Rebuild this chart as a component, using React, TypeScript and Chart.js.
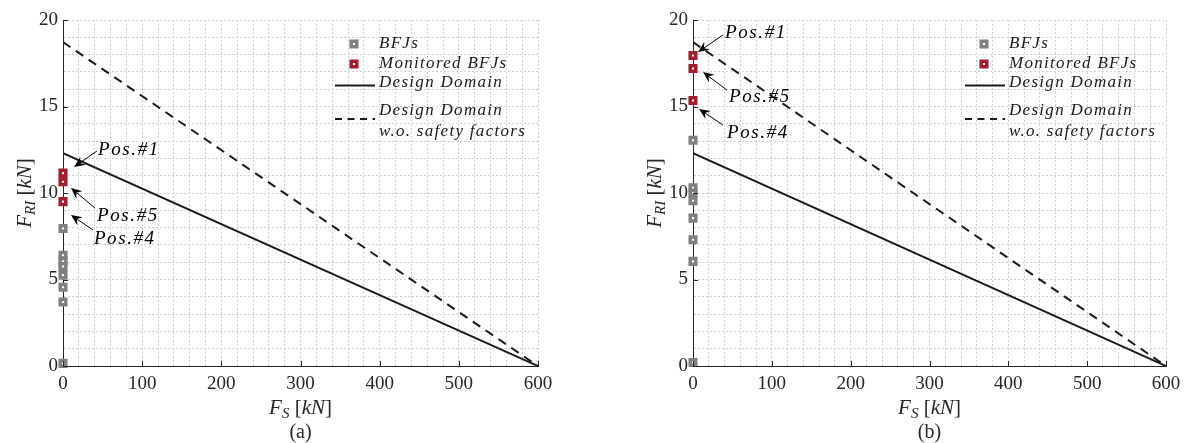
import React, { useEffect, useRef } from 'react';
import { Chart, registerables } from 'chart.js';

Chart.register(...registerables);

// ---- data ----
const FS_ENDPOINTS = [0, 600];
const DESIGN_DOMAIN = [12.3, 0];
const DESIGN_DOMAIN_NO_SF = [18.72, 0];

const BFJ_FS_A = [0, 0, 0, 0, 0, 0, 0, 0];
const BFJ_FRI_A = [7.95, 6.4, 6.05, 5.75, 5.25, 4.55, 3.7, 0.15];
const MON_FS_A = [0, 0, 0];
const MON_FRI_A = [11.15, 10.65, 9.5];

const BFJ_FS_B = [0, 0, 0, 0, 0, 0, 0, 0];
const BFJ_FRI_B = [13.05, 10.3, 10.0, 9.55, 8.55, 7.3, 6.05, 0.2];
const MON_FS_B = [0, 0, 0];
const MON_FRI_B = [17.95, 17.2, 15.35];

const POS_LABELS = ['Pos.#1', 'Pos.#5', 'Pos.#4'];
const X_TICK_LABELS = [0, 100, 200, 300, 400, 500, 600];
const Y_TICK_LABELS = [0, 5, 10, 15, 20];
const LEGEND_LABELS = ['BFJs', 'Monitored BFJs', 'Design Domain', 'Design Domain', 'w.o. safety factors'];
const PANEL_LABELS = ['(a)', '(b)'];

// annotation anchors in data units (F_S, F_RI)
const ANNOT_A = [
  { text: POS_LABELS[0], head: [13.9, 11.5], tail: [42.9, 12.43], at: [44.2, 12.49] },
  { text: POS_LABELS[1], head: [10.1, 10.29], tail: [40.4, 9.13], at: [43, 8.67] },
  { text: POS_LABELS[2], head: [10.1, 8.73], tail: [37.9, 7.86], at: [39, 7.34] },
];
const ANNOT_B = [
  { text: POS_LABELS[0], head: [6.3, 18.15], tail: [38, 19.13], at: [40.6, 19.25] },
  { text: POS_LABELS[1], head: [12.7, 16.99], tail: [43.1, 15.95], at: [45.6, 15.55] },
  { text: POS_LABELS[2], head: [7.6, 14.86], tail: [38, 13.93], at: [43.1, 13.47] },
];

// ---- styles ----
const SERIF = "'Liberation Serif', 'DejaVu Serif', serif";
const AXIS = '#262626';
const GRID = '#d2d2d2';
const GRAY = '#808080';
const RED = '#a51c30';
const LINE = '#1a1a1a';

const pts = (xs: number[], ys: number[]) => ys.map((y, i) => ({ x: xs[i], y }));

function drawMarker(ctx: CanvasRenderingContext2D, x: number, y: number, color: string) {
  const s = 5.6;
  ctx.save();
  ctx.fillStyle = '#fff';
  ctx.strokeStyle = color;
  ctx.lineWidth = 3.5;
  ctx.beginPath();
  ctx.rect(x - s / 2, y - s / 2, s, s);
  ctx.fill();
  ctx.stroke();
  ctx.restore();
}

type Part = { t: string; font: string; dy?: number };

function drawRich(ctx: CanvasRenderingContext2D, parts: Part[], cx: number, baseline: number) {
  let total = 0;
  const widths = parts.map((p) => {
    ctx.font = p.font;
    const w = ctx.measureText(p.t).width;
    total += w;
    return w;
  });
  let x = cx - total / 2;
  ctx.textAlign = 'left';
  ctx.textBaseline = 'alphabetic';
  parts.forEach((p, i) => {
    ctx.font = p.font;
    ctx.fillText(p.t, x, baseline + (p.dy || 0));
    x += widths[i];
  });
}

function drawArrow(ctx: CanvasRenderingContext2D, x1: number, y1: number, x2: number, y2: number) {
  const ang = Math.atan2(y2 - y1, x2 - x1);
  const L = 11;
  const W = 4.8;
  ctx.save();
  ctx.strokeStyle = '#000';
  ctx.fillStyle = '#000';
  ctx.lineWidth = 1;
  ctx.beginPath();
  ctx.moveTo(x1, y1);
  ctx.lineTo(x2 - Math.cos(ang) * L * 0.6, y2 - Math.sin(ang) * L * 0.6);
  ctx.stroke();
  ctx.translate(x2, y2);
  ctx.rotate(ang);
  ctx.beginPath();
  ctx.moveTo(0, 0);
  ctx.lineTo(-L, -W);
  ctx.lineTo(-L * 0.65, 0);
  ctx.lineTo(-L, W);
  ctx.closePath();
  ctx.fill();
  ctx.restore();
}

const panelPlugin = {
  id: 'panel',
  afterDraw(chart: any, _args: any, opts: any) {
    const { ctx, chartArea: ca, scales } = chart;
    const xs = scales.x;
    const ys = scales.y;
    ctx.save();

    // inward tick marks
    ctx.strokeStyle = AXIS;
    ctx.lineWidth = 1;
    X_TICK_LABELS.forEach((v) => {
      const px = Math.round(xs.getPixelForValue(v)) + 0.5;
      ctx.beginPath();
      ctx.moveTo(px, ca.bottom);
      ctx.lineTo(px, ca.bottom - 5);
      ctx.stroke();
    });
    Y_TICK_LABELS.forEach((v) => {
      const py = Math.round(ys.getPixelForValue(v)) + 0.5;
      ctx.beginPath();
      ctx.moveTo(ca.left, py);
      ctx.lineTo(ca.left + 5, py);
      ctx.stroke();
    });

    // axis titles
    ctx.fillStyle = AXIS;
    const it = (s: number) => `italic ${s}px ${SERIF}`;
    const up = (s: number) => `${s}px ${SERIF}`;
    const cx = (ca.left + ca.right) / 2;
    drawRich(
      ctx,
      [
        { t: 'F', font: it(21) },
        { t: 'S', font: it(15), dy: 4 },
        { t: ' [', font: up(21) },
        { t: 'kN', font: it(21) },
        { t: ']', font: up(21) },
      ],
      cx,
      ca.bottom + 48
    );
    ctx.save();
    ctx.translate(ca.left - 32, (ca.top + ca.bottom) / 2);
    ctx.rotate(-Math.PI / 2);
    drawRich(
      ctx,
      [
        { t: 'F', font: it(21) },
        { t: 'RI', font: it(15), dy: 4 },
        { t: ' [', font: up(21) },
        { t: 'kN', font: it(21) },
        { t: ']', font: up(21) },
      ],
      0,
      0
    );
    ctx.restore();

    // panel label
    ctx.fillStyle = AXIS;
    ctx.font = up(20);
    ctx.textAlign = 'center';
    ctx.textBaseline = 'alphabetic';
    ctx.fillText(opts.label, cx, ca.bottom + 72);

    // legend
    const lx = ca.left + 291;
    const tx = ca.left + 316;
    drawMarker(ctx, lx, ca.top + 24, GRAY);
    drawMarker(ctx, lx, ca.top + 44, RED);
    ctx.strokeStyle = LINE;
    ctx.lineWidth = 2;
    ctx.beginPath();
    ctx.moveTo(ca.left + 272, ca.top + 65.5);
    ctx.lineTo(ca.left + 312, ca.top + 65.5);
    ctx.stroke();
    ctx.setLineDash([7, 5.5]);
    ctx.beginPath();
    ctx.moveTo(ca.left + 272, ca.top + 99);
    ctx.lineTo(ca.left + 312, ca.top + 99);
    ctx.stroke();
    ctx.setLineDash([]);
    ctx.fillStyle = '#1a1a1a';
    ctx.font = it(17);
    (ctx as any).letterSpacing = '1.3px';
    ctx.textAlign = 'left';
    ctx.textBaseline = 'middle';
    const rows = [24, 44, 63, 90.5, 111.5];
    LEGEND_LABELS.forEach((l, i) => ctx.fillText(l, tx, ca.top + rows[i]));

    // annotations
    (ctx as any).letterSpacing = '1.6px';
    ctx.font = it(19);
    (opts.annotations || []).forEach((a: any) => {
      drawArrow(
        ctx,
        xs.getPixelForValue(a.tail[0]),
        ys.getPixelForValue(a.tail[1]),
        xs.getPixelForValue(a.head[0]),
        ys.getPixelForValue(a.head[1])
      );
      ctx.fillStyle = '#000';
      ctx.fillText(a.text, xs.getPixelForValue(a.at[0]), ys.getPixelForValue(a.at[1]));
    });
    (ctx as any).letterSpacing = '0px';
    ctx.restore();
  },
};

function makeConfig(
  bfjX: number[],
  bfjY: number[],
  monX: number[],
  monY: number[],
  yAxisWidth: number,
  rightPad: number,
  label: string,
  annotations: any[]
): any {
  const tickFont = { family: SERIF, size: 19 };
  return {
    type: 'scatter',
    data: {
      datasets: [
        {
          label: LEGEND_LABELS[1],
          data: pts(monX, monY),
          pointStyle: 'rect',
          pointRadius: 3.96,
          pointBorderWidth: 3.5,
          borderColor: RED,
          backgroundColor: '#fff',
          clip: false,
        },
        {
          label: LEGEND_LABELS[0],
          data: pts(bfjX, bfjY),
          pointStyle: 'rect',
          pointRadius: 3.96,
          pointBorderWidth: 3.5,
          borderColor: GRAY,
          backgroundColor: '#fff',
          clip: false,
        },
        {
          label: LEGEND_LABELS[2],
          data: pts(FS_ENDPOINTS, DESIGN_DOMAIN),
          showLine: true,
          pointRadius: 0,
          borderColor: LINE,
          borderWidth: 2,
        },
        {
          label: LEGEND_LABELS[3],
          data: pts(FS_ENDPOINTS, DESIGN_DOMAIN_NO_SF),
          showLine: true,
          pointRadius: 0,
          borderColor: LINE,
          borderWidth: 2,
          borderDash: [9, 6.5],
        },
      ],
    },
    options: {
      responsive: false,
      animation: false,
      devicePixelRatio: 1,
      font: { family: SERIF },
      layout: { padding: { left: 0, top: 20, right: rightPad, bottom: 0 } },
      plugins: {
        legend: { display: false },
        tooltip: { enabled: false },
        panel: { label, annotations },
      },
      scales: {
        x: {
          type: 'linear',
          min: 0,
          max: 600,
          afterFit: (s: any) => {
            s.height = 77;
          },
          ticks: {
            stepSize: 20,
            autoSkip: false,
            maxRotation: 0,
            padding: 7,
            color: AXIS,
            font: tickFont,
            callback: (v: number) => (X_TICK_LABELS.includes(v) ? String(v) : ''),
          },
          grid: { color: GRID, lineWidth: 1, drawTicks: false },
          border: { display: true, color: AXIS, width: 1, dash: [2, 2] },
        },
        y: {
          type: 'linear',
          min: 0,
          max: 20,
          afterFit: (s: any) => {
            s.width = yAxisWidth;
          },
          ticks: {
            stepSize: 1,
            autoSkip: false,
            padding: 5,
            color: AXIS,
            font: tickFont,
            callback: (v: number) => (Y_TICK_LABELS.includes(v) ? String(v) : ''),
          },
          grid: { color: GRID, lineWidth: 1, drawTicks: false },
          border: { display: true, color: AXIS, width: 1, dash: [2, 2] },
        },
      },
    },
    plugins: [panelPlugin],
  };
}

export default function App() {
  const refA = useRef<HTMLCanvasElement | null>(null);
  const refB = useRef<HTMLCanvasElement | null>(null);

  useEffect(() => {
    const a = new Chart(
      refA.current as HTMLCanvasElement,
      makeConfig(BFJ_FS_A, BFJ_FRI_A, MON_FS_A, MON_FRI_A, 63, 56, PANEL_LABELS[0], ANNOT_A)
    );
    const b = new Chart(
      refB.current as HTMLCanvasElement,
      makeConfig(BFJ_FS_B, BFJ_FRI_B, MON_FS_B, MON_FRI_B, 99, 22, PANEL_LABELS[1], ANNOT_B)
    );
    return () => {
      a.destroy();
      b.destroy();
    };
  }, []);

  return (
    <div style={{ position: 'absolute', left: 0, top: 0, width: 1188, height: 443, background: '#fff' }}>
      <canvas ref={refA} width={594} height={443} style={{ position: 'absolute', left: 0, top: 0 }} />
      <canvas ref={refB} width={594} height={443} style={{ position: 'absolute', left: 594, top: 0 }} />
    </div>
  );
}
